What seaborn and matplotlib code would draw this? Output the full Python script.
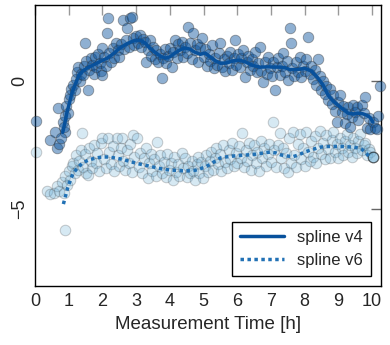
import numpy as np
import matplotlib
matplotlib.use("Agg")
import matplotlib.pyplot as plt
import seaborn as sns

# measured points, spline v4 run (dark)
v4_x = [0.03, 0.45, 0.6, 0.65, 0.72, 0.68, 0.83, 0.9, 0.78,
        0.85, 0.88, 0.93, 0.97, 1.0, 1.04, 1.08, 1.13, 1.17, 1.2, 1.25, 1.28, 1.32, 1.36, 1.42, 1.46, 1.48, 1.52, 1.57, 1.6,
        1.65, 1.7, 1.74, 1.78, 1.82, 1.87, 1.92, 1.96, 1.99, 2.0,
        2.05, 2.1, 2.14, 2.17, 2.2, 2.25, 2.3, 2.35, 2.4, 2.45, 2.5, 2.55, 2.6, 2.65, 2.7, 2.73, 2.78, 2.82, 2.87, 2.9, 2.95, 3.0,
        3.05, 3.1, 3.15, 3.2, 3.25, 3.3, 3.35, 3.4, 3.45, 3.5, 3.55, 3.6, 3.65, 3.7, 3.77, 3.8, 3.85, 3.9, 3.95,
        4.0, 4.05, 4.1, 4.15, 4.2, 4.25, 4.3, 4.35, 4.4, 4.45, 4.5, 4.55, 4.6, 4.65, 4.7, 4.75, 4.8, 4.85, 4.9, 4.95,
        5.0, 5.05, 5.1, 5.15, 5.2, 5.25, 5.3, 5.35, 5.4, 5.45, 5.5, 5.55, 5.6, 5.65, 5.7, 5.75, 5.8, 5.85, 5.9, 5.93, 5.97,
        6.02, 6.07, 6.12, 6.17, 6.23, 6.28, 6.33, 6.38, 6.43, 6.48, 6.53, 6.58, 6.63, 6.68, 6.72, 6.77, 6.82, 6.87, 6.92, 6.97,
        7.02, 7.07, 7.12, 7.17, 7.22, 7.27, 7.32, 7.37, 7.42, 7.47, 7.52, 7.57, 7.6, 7.64, 7.7, 7.75, 7.8, 7.85, 7.9, 7.95,
        8.0, 8.05, 8.1, 8.15, 8.2, 8.25, 8.3, 8.35, 8.4, 8.45, 8.5, 8.55, 8.6, 8.65, 8.7, 8.75, 8.8, 8.85, 8.9, 8.96, 9.0,
        9.05, 9.1, 9.15, 9.2, 9.25, 9.3, 9.35, 9.4, 9.44, 9.5, 9.55, 9.6, 9.7, 9.75, 9.8, 9.85, 9.9, 9.95, 10.03, 10.09,
        10.15, 10.18, 10.24]
v4_y = [-1.55, -2.3, -2.0, -2.6, -2.45, -1.05, -1.6, -2.0, -2.2,
        -1.8, -1.35, -0.95, -1.25, -0.7, -0.55, -0.3, -0.16, -0.35, 0.1, 0.35, 0.55, 0.0, 0.3, 0.23, 0.6, 1.5, 0.8, -0.35, 0.45,
        0.9, 0.63, 0.3, 0.95, 0.55, 1.05, 0.7, 0.4, 1.3, 0.23,
        0.95, 0.6, 1.9, 2.45, 1.1, 0.75, 1.3, 0.9, 1.5, 1.2, 0.95, 1.45, 2.4, 1.25, 1.6, 2.07, 1.35, 2.45, 2.5, 1.7, 1.4, 1.75,
        1.5, 1.8, 1.35, 1.65, 1.55, 0.75, 1.2, 1.6, 1.0, 1.35, 0.85, 1.2, 0.75, 1.05, 0.12, 0.9, 1.25, 0.7, 1.0,
        1.3, 0.55, 1.15, 1.6, 0.9, 1.45, 1.2, 1.55, 0.95, 1.35, 1.1, 2.1, 1.5, 0.85, 1.9, 1.2, 1.45, 0.75, 1.35, 1.7,
        0.95, 1.25, 0.6, 1.05, 0.8, 1.4, 0.5, 0.9, 0.65, 1.1, 1.5, 0.55, 0.85, 0.4, 1.0, 0.7, 1.15, 0.45, 0.9, 1.6, 0.65,
        1.05, 0.55, 0.9, 1.2, 0.15, 0.75, 1.0, 0.45, 0.85, 0.6, 1.15, 0.35, 0.7, 1.33, 0.4, -0.04, 0.75, 0.3, 0.95, 0.5,
        0.2, 0.75, -0.35, 0.55, 0.9, 0.25, 0.6, 1.1, 0.35, 0.8, 0.05, 2.07, 1.5, 0.5, 0.2, 0.75, 0.35, 0.95, 0.15, 0.6,
        0.4, 0.85, 1.73, 0.3, 0.6, 0.1, 0.45, -0.15, 0.85, 0.2, -0.35, 0.0, -0.5, -0.2, -0.75, -0.3, -0.9, -0.55, -1.15, -1.6, -0.8,
        -0.55, -1.2, -0.95, -1.65, -1.3, -1.0, -1.8, -1.4, -0.94, -1.2, -1.0, -1.5, -0.94, -1.25, -0.6, -1.83, -1.45, -1.85, -1.6, -1.83,
        -1.85, -1.35, -0.2]

# measured points, spline v6 run (light)
v6_x = [0.03, 0.89, 0.35, 0.45, 0.55, 0.65, 0.8, 0.72,
        0.85, 0.9, 0.95, 1.0, 1.05, 1.1, 1.13, 1.18, 1.22, 1.27, 1.3, 1.35, 1.4, 1.43, 1.48, 1.52, 1.57, 1.6, 1.65,
        1.7, 1.75, 1.8, 1.85, 1.9, 1.95, 2.0,
        2.05, 2.1, 2.17, 2.2, 2.25, 2.3, 2.35, 2.43, 2.45, 2.5, 2.55, 2.58, 2.62, 2.68, 2.72, 2.78, 2.82, 2.87, 2.9, 2.95, 3.03,
        3.08, 3.12, 3.17, 3.22, 3.28, 3.35, 3.38, 3.43, 3.48, 3.53, 3.58, 3.62, 3.67, 3.72, 3.77, 3.82, 3.88, 3.93, 3.98,
        4.03, 4.08, 4.13, 4.18, 4.23, 4.28, 4.36, 4.4, 4.45, 4.5, 4.55, 4.6, 4.65, 4.7, 4.75, 4.8, 4.83, 4.88, 4.93, 4.98,
        5.03, 5.08, 5.13, 5.18, 5.23, 5.28, 5.33, 5.38, 5.43, 5.48, 5.53, 5.58, 5.63, 5.7, 5.75, 5.8, 5.85, 5.9, 5.95,
        6.0, 6.05, 6.1, 6.14, 6.2, 6.25, 6.3, 6.35, 6.4, 6.45, 6.5, 6.55, 6.6, 6.65, 6.7, 6.75, 6.8, 6.85, 6.9, 6.95,
        7.0, 7.06, 7.1, 7.15, 7.2, 7.27, 7.3, 7.35, 7.4, 7.45, 7.5, 7.55, 7.6, 7.65, 7.7, 7.75, 7.8, 7.85, 7.9, 7.95,
        8.0, 8.05, 8.1, 8.15, 8.2, 8.25, 8.3, 8.35, 8.4, 8.45, 8.5, 8.55, 8.6, 8.65, 8.7, 8.75, 8.8, 8.85, 8.9, 8.95,
        9.0, 9.05, 9.1, 9.15, 9.2, 9.25, 9.3, 9.35, 9.4, 9.45, 9.5, 9.55, 9.6, 9.65, 9.7, 9.75, 9.8, 9.85, 9.9, 9.95]
v6_y = [-2.77, -5.8, -4.3, -4.4, -4.35, -4.1, -3.95, -4.3,
        -4.35, -3.7, -4.05, -3.5, -3.85, -3.3, -3.2, -3.6, -2.9, -3.45, -3.1, -2.7, -2.03, -3.35, -2.85, -3.6, -3.67, -2.6, -3.1,
        -3.4, -2.5, -3.2, -2.8, -3.5, -2.4, -2.23,
        -3.05, -3.4, -2.2, -2.75, -3.25, -2.55, -3.5, -2.23, -2.9, -3.3, -2.6, -2.23, -3.1, -3.45, -2.7, -3.2, -2.45, -3.55, -2.1, -2.95, -2.23,
        -3.35, -2.8, -3.6, -3.0, -2.6, -3.8, -3.2, -2.85, -3.5, -3.05, -3.7, -2.38, -3.3, -2.9, -3.6, -3.15, -3.75, -2.85, -3.45,
        -3.2, -3.85, -2.95, -3.55, -3.25, -3.7, -2.8, -3.4, -3.0, -3.75, -3.3, -3.6, -3.1, -3.5, -3.87, -3.25, -2.97, -3.6, -3.15, -3.8,
        -3.3, -2.9, -3.55, -3.1, -2.75, -3.45, -3.0, -2.6, -3.25, -2.85, -3.5, -2.5, -3.15, -3.4, -2.7, -3.05, -2.4, -3.3, -2.8,
        -3.2, -2.55, -3.0, -2.03, -3.35, -2.7, -3.1, -2.4, -3.45, -2.9, -2.5, -3.2, -2.75, -3.5, -2.35, -3.0, -2.6, -3.3, -2.85, -2.45,
        -3.15, -1.6, -2.7, -3.35, -2.5, -2.03, -3.0, -2.6, -3.4, -2.8, -3.55, -2.2, -3.2, -2.0, -2.9, -3.35, -2.45, -2.05, -3.05, -2.6,
        -3.3, -2.0, -2.75, -3.1, -2.35, -2.95, -2.15, -3.2, -2.6, -1.95, -2.85, -2.4, -3.05, -2.1, -2.65, -3.0, -2.3, -2.0, -2.75, -2.45,
        -3.0, -2.2, -2.6, -2.9, -2.35, -2.05, -2.75, -2.5, -2.95, -2.2, -2.6, -2.8, -2.35, -2.05, -2.7, -2.5, -2.42, -2.9, -2.65, -2.75]
v6_last_x = [10.03]
v6_last_y = [-2.97]

# fitted splines
spl4_x = [0.82, 0.88, 0.95, 1.02, 1.1, 1.2, 1.3, 1.42, 1.55, 1.72, 1.9, 2.14, 2.35, 2.52, 2.75, 2.97, 3.15, 3.26, 3.4,
          3.56, 3.72, 3.86, 4.0, 4.15, 4.3, 4.45, 4.6, 4.75, 4.9, 5.04, 5.2, 5.35, 5.5, 5.7, 5.9, 6.08, 6.25, 6.45,
          6.68, 6.9, 7.1, 7.27, 7.42, 7.57, 7.8, 8.0, 8.2, 8.4, 8.55, 8.7, 8.85, 9.0, 9.15, 9.29, 9.45, 9.58, 9.72,
          9.85, 9.95, 10.03]
spl4_y = [-2.0, -1.65, -1.2, -0.85, -0.43, -0.1, 0.23, 0.4, 0.52, 0.63, 0.75, 0.9, 1.1, 1.3, 1.48, 1.6, 1.58, 1.5, 1.3,
          1.13, 0.98, 0.9, 0.95, 1.1, 1.22, 1.3, 1.25, 1.13, 1.05, 1.1, 0.95, 0.8, 0.7, 0.72, 0.8, 0.82, 0.75, 0.62,
          0.55, 0.56, 0.55, 0.55, 0.53, 0.45, 0.46, 0.5, 0.4, 0.12, -0.15, -0.55, -0.78, -0.94, -1.1, -1.25, -1.28,
          -1.25, -1.27, -1.33, -1.42, -1.6]
spl6_x = [0.84, 0.9, 0.97, 1.05, 1.13, 1.25, 1.4, 1.6, 1.8, 2.0, 2.2, 2.37, 2.6, 2.85, 3.05, 3.26, 3.5, 3.75, 4.0, 4.15,
          4.4, 4.6, 4.75, 4.9, 5.04, 5.2, 5.35, 5.5, 5.7, 5.9, 6.08, 6.3, 6.55, 6.8, 6.97, 7.15, 7.3, 7.47, 7.65, 7.82,
          8.0, 8.2, 8.4, 8.5, 8.7, 8.9, 9.1, 9.25, 9.4, 9.55, 9.7, 9.8, 9.94]
spl6_y = [-4.8, -4.5, -4.15, -3.85, -3.6, -3.4, -3.2, -3.07, -3.0, -2.96, -2.96, -3.0, -3.05, -3.15, -3.22, -3.28, -3.35,
          -3.42, -3.47, -3.48, -3.5, -3.5, -3.48, -3.42, -3.36, -3.25, -3.12, -3.0, -2.95, -2.92, -2.9, -2.88, -2.85,
          -2.8, -2.77, -2.8, -2.88, -2.92, -2.95, -2.88, -2.77, -2.68, -2.6, -2.57, -2.55, -2.55, -2.55, -2.56, -2.57,
          -2.6, -2.66, -2.77, -2.97]

sns.set_theme(style="white")
plt.rcParams['font.family'] = ['Liberation Sans', 'DejaVu Sans']

fig, ax = plt.subplots(figsize=(3.9, 3.45), dpi=100)
fig.subplots_adjust(left=0.09, right=0.977, bottom=0.171, top=0.985)

sns.scatterplot(x=v6_x, y=v6_y, ax=ax, s=58, color='#6baed6', alpha=0.27,
                edgecolor='#444444', linewidth=0.7, clip_on=False, zorder=2)
sns.scatterplot(x=v4_x, y=v4_y, ax=ax, s=58, color='#08519c', alpha=0.45,
                edgecolor='#333333', linewidth=0.6, clip_on=False, zorder=3)
sns.scatterplot(x=v6_last_x, y=v6_last_y, ax=ax, s=58, color='#6baed6', alpha=0.6,
                edgecolor='black', linewidth=0.9, clip_on=False, zorder=4)

sns.lineplot(x=spl4_x, y=spl4_y, ax=ax, sort=False, color='#08519c', lw=2.5,
             label='spline v4', zorder=5)
sns.lineplot(x=spl6_x, y=spl6_y, ax=ax, sort=False, color='#2171b5', lw=2.5,
             linestyle=(0, (1, 1)), label='spline v6', zorder=5)

ax.set_xlim(0, 10.27)
ax.set_ylim(-8, 2.97)
ax.set_xticks(range(0, 11))
ax.set_yticks([-5, 0])
ax.tick_params(direction='in', length=7, width=1, color='#999999',
               top=True, right=True, labelsize=13, pad=5)
ax.tick_params(axis='y', color='#666666')
plt.setp(ax.get_yticklabels(), rotation=90, va='center')
for sp in ax.spines.values():
    sp.set_color('black')
    sp.set_linewidth(1)
ax.set_xlabel('Measurement Time [h]', fontsize=13.5, labelpad=4)

leg = ax.legend(loc='lower right', fontsize=12, frameon=True, fancybox=False,
                framealpha=1, edgecolor='black', handlelength=2.6,
                borderaxespad=0.6, borderpad=0.5, labelspacing=0.45)
leg.get_frame().set_linewidth(1)

plt.savefig('out.png', dpi=100)
